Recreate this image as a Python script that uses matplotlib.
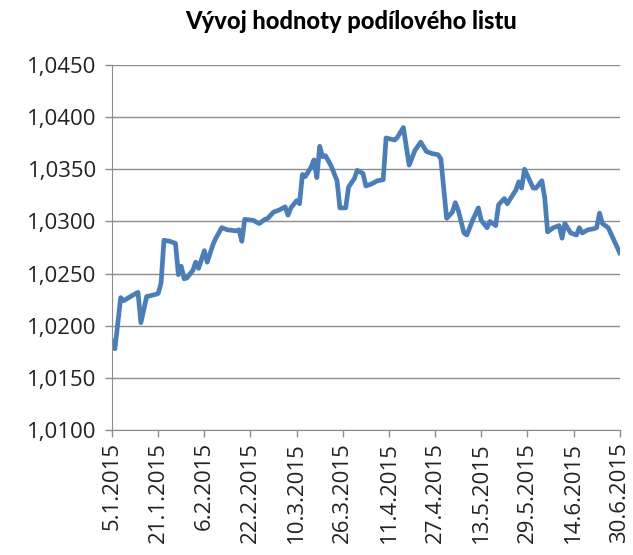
import matplotlib

matplotlib.use("Agg")
import matplotlib.pyplot as plt
import matplotlib.ticker as mticker
import pandas as pd

dates = [
    "5.1.2015", "6.1.2015", "8.1.2015", "9.1.2015", "12.1.2015", "14.1.2015",
    "15.1.2015", "17.1.2015", "20.1.2015", "21.1.2015", "22.1.2015", "23.1.2015",
    "25.1.2015", "27.1.2015", "28.1.2015", "29.1.2015", "30.1.2015", "31.1.2015",
    "2.2.2015", "3.2.2015", "4.2.2015", "6.2.2015", "7.2.2015", "9.2.2015",
    "10.2.2015", "12.2.2015", "14.2.2015", "17.2.2015", "18.2.2015", "19.2.2015",
    "20.2.2015", "23.2.2015", "25.2.2015", "27.2.2015", "28.2.2015", "2.3.2015",
    "4.3.2015", "6.3.2015", "7.3.2015", "8.3.2015", "10.3.2015", "11.3.2015",
    "12.3.2015", "13.3.2015", "15.3.2015", "16.3.2015", "17.3.2015", "18.3.2015",
    "19.3.2015", "20.3.2015", "22.3.2015", "24.3.2015", "25.3.2015", "27.3.2015",
    "28.3.2015", "30.3.2015", "31.3.2015", "2.4.2015", "3.4.2015", "5.4.2015",
    "7.4.2015", "9.4.2015", "10.4.2015", "13.4.2015", "14.4.2015", "16.4.2015",
    "18.4.2015", "20.4.2015", "22.4.2015", "24.4.2015", "26.4.2015", "28.4.2015",
    "29.4.2015", "1.5.2015", "3.5.2015", "4.5.2015", "5.5.2015", "7.5.2015",
    "8.5.2015", "10.5.2015", "12.5.2015", "13.5.2015", "15.5.2015", "16.5.2015",
    "18.5.2015", "19.5.2015", "21.5.2015", "22.5.2015", "25.5.2015", "26.5.2015",
    "27.5.2015", "28.5.2015", "29.5.2015", "31.5.2015", "1.6.2015", "3.6.2015",
    "4.6.2015", "5.6.2015", "7.6.2015", "9.6.2015", "10.6.2015", "11.6.2015",
    "13.6.2015", "15.6.2015", "16.6.2015", "17.6.2015", "19.6.2015", "21.6.2015",
    "22.6.2015", "23.6.2015", "24.6.2015", "26.6.2015", "28.6.2015", "30.6.2015",
]
values = [
    1.0185, 1.0178, 1.0227, 1.0224, 1.0229, 1.0232,
    1.0203, 1.0228, 1.0230, 1.0231, 1.0241, 1.0282,
    1.0281, 1.0279, 1.0249, 1.0257, 1.0245, 1.0246,
    1.0253, 1.0261, 1.0255, 1.0272, 1.0261, 1.0278,
    1.0284, 1.0294, 1.0292, 1.0291, 1.0292, 1.0281,
    1.0302, 1.0301, 1.0298, 1.0302, 1.0303, 1.0309,
    1.0311, 1.0314, 1.0306, 1.0313, 1.0320, 1.0317,
    1.0345, 1.0343, 1.0352, 1.0359, 1.0342, 1.0372,
    1.0362, 1.0363, 1.0353, 1.0339, 1.0313, 1.0313,
    1.0333, 1.0341, 1.0349, 1.0346, 1.0334, 1.0336,
    1.0339, 1.0340, 1.0380, 1.0378, 1.0381, 1.0390,
    1.0354, 1.0368, 1.0376, 1.0367, 1.0365, 1.0364,
    1.0360, 1.0303, 1.0309, 1.0318, 1.0311, 1.0289,
    1.0287, 1.0301, 1.0313, 1.0301, 1.0294, 1.0300,
    1.0296, 1.0316, 1.0322, 1.0317, 1.0330, 1.0338,
    1.0332, 1.0350, 1.0344, 1.0332, 1.0332, 1.0339,
    1.0323, 1.0290, 1.0294, 1.0296, 1.0284, 1.0298,
    1.0289, 1.0287, 1.0294, 1.0289, 1.0292, 1.0293,
    1.0294, 1.0308, 1.0298, 1.0294, 1.0282, 1.0270,
]
tick_dates = [
    "5.1.2015", "21.1.2015", "6.2.2015", "22.2.2015", "10.3.2015", "26.3.2015",
    "11.4.2015", "27.4.2015", "13.5.2015", "29.5.2015", "14.6.2015", "30.6.2015",
]

x = pd.to_datetime(dates, format="%d.%m.%Y")
ticks = pd.to_datetime(tick_dates, format="%d.%m.%Y")

fig = plt.figure(figsize=(6.33, 5.55), dpi=100)
ax = fig.add_axes([0.177, 0.225, 0.802, 0.658])
ax.plot(x, values, color="#4a7ebb", linewidth=3.4, solid_joinstyle="round")

ax.set_ylim(1.0100, 1.0450)
ax.yaxis.set_major_locator(mticker.MultipleLocator(0.005))
ax.yaxis.set_major_formatter(
    mticker.FuncFormatter(lambda v, _: f"{v:.4f}".replace(".", ","))
)
ax.set_xlim(ticks[0], ticks[-1])
ax.set_xticks(ticks)
ax.set_xticklabels([f"{d.day}.{d.month}.{d.year}" for d in ticks], rotation=90)

ax.grid(axis="y", color="#8c8c8c", linewidth=1.0)
ax.set_axisbelow(True)
for side in ("top", "right"):
    ax.spines[side].set_visible(False)
for side in ("left", "bottom"):
    ax.spines[side].set_color("#8c8c8c")
ax.tick_params(axis="both", colors="#8c8c8c", labelcolor="#222222",
               labelsize=16, length=5, width=1.0)
ax.tick_params(axis="y", pad=6)
for lbl in ax.get_xticklabels() + ax.get_yticklabels():
    lbl.set_fontfamily("Open Sans")

fig.text(0.555, 0.962, "Vývoj hodnoty podílového listu", ha="center",
         va="center", fontsize=17, fontweight="black", family="Lato")

fig.savefig("out.png", dpi=100)
